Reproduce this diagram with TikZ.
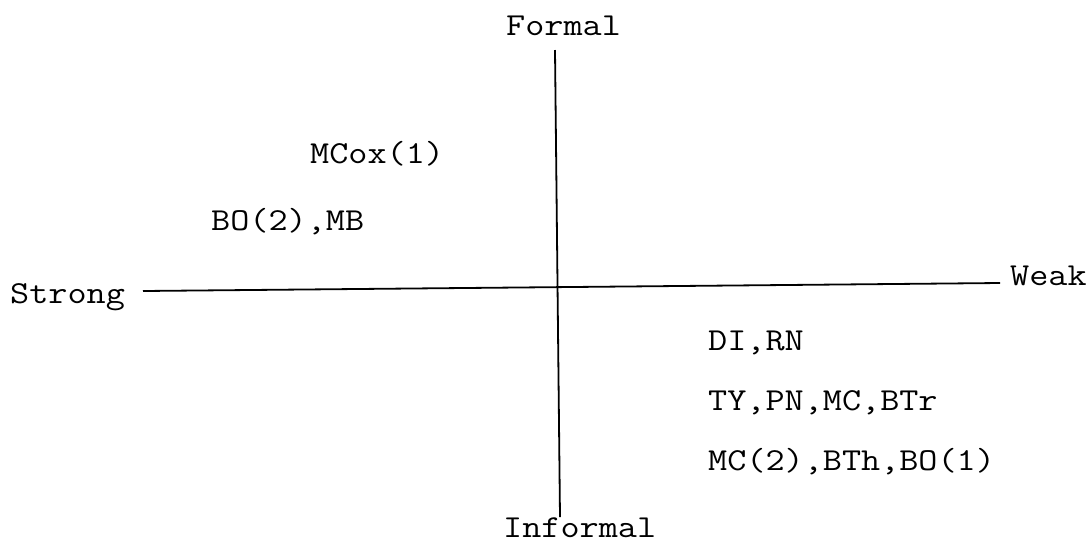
\documentclass[tikz,border=0pt]{standalone}
\usepackage{fontspec}
\setmonofont[FakeStretch=1.16]{Latin Modern Mono}
\begin{document}
\begin{tikzpicture}[x=1pt,y=-1pt,
  lbl/.style={anchor=base west,inner sep=0pt,font=\ttfamily\fontsize{32}{36}\selectfont},
  axis/.style={draw=black,line width=1.8pt}]
\useasboundingbox (0,0) rectangle (1088,542);
\node[lbl] (formal) at (506,35) {Formal};
\node[lbl] (informal) at (503,537) {Informal};
\node[lbl] (strong) at (10,303) {Strong};
\node[lbl] (weak) at (1010,285) {Weak};
\node[lbl] (mcox) at (310,163) {MCox(1)};
\node[lbl] (bo2) at (211,230) {BO(2),MB};
\node[lbl] (dirn) at (708,350) {DI,RN};
\node[lbl] (ty) at (708,410) {TY,PN,MC,BTr};
\node[lbl] (mc2) at (708,470) {MC(2),BTh,BO(1)};
\coordinate (hl) at (143,291);
\coordinate (hr) at (1000,283);
\coordinate (vt) at (555,50);
\coordinate (vb) at (560,517);
\draw[axis] (hl) -- (hr);
\draw[axis] (vt) -- (vb);
\end{tikzpicture}
\end{document}
